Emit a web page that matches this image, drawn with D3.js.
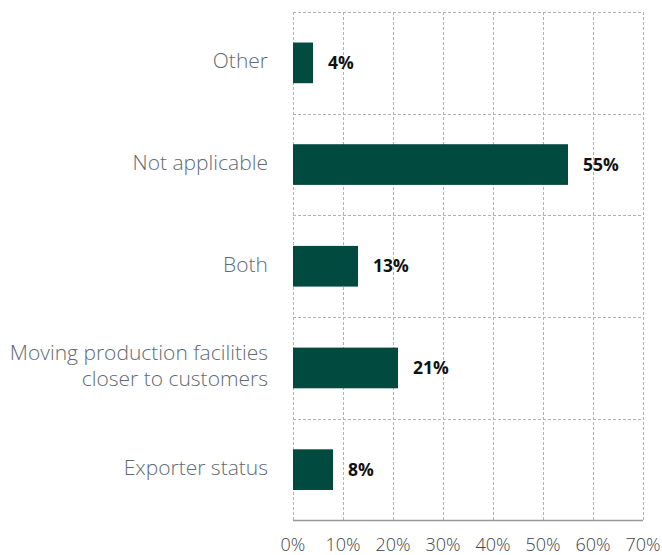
<!DOCTYPE html>
<html>
<head>
<meta charset="utf-8">
<script src="https://cdn.jsdelivr.net/npm/d3@7"></script>
<style>
  body { margin: 0; background: #fff; }
  svg { display: block; font-family: "Open Sans", sans-serif; }
</style>
</head>
<body>
<svg class="chart" width="662" height="555"></svg>
<script>
// categories top to bottom
var categories = ["Other", "Not applicable", "Both", "Moving production facilities\ncloser to customers", "Exporter status"];
var values = [4, 55, 13, 21, 8];
var ticks = [0, 10, 20, 30, 40, 50, 60, 70];

var width = 662,
    height = 555;
var margin = {top: 12, right: 19, bottom: 34.5, left: 293};

var svg = d3.select(".chart");

var x = d3.scaleLinear()
  .domain([0, 70])
  .range([margin.left, width - margin.right]);

var y = d3.scaleBand()
  .domain(categories)
  .range([margin.top, height - margin.bottom])
  .paddingInner(0.6)
  .paddingOuter(0.3);

// vertical dashed grid
svg.append("g").selectAll("line")
  .data(ticks)
  .enter().append("line")
    .attr("x1", function(d) { return Math.round(x(d)) + 0.5; })
    .attr("x2", function(d) { return Math.round(x(d)) + 0.5; })
    .attr("y1", margin.top)
    .attr("y2", height - margin.bottom)
    .attr("stroke", "#b3b3b3")
    .attr("stroke-dasharray", "3,2");

// horizontal dashed lines between bands
var bounds = d3.range(categories.length).map(function(i) { return margin.top + i * (height - margin.top - margin.bottom) / categories.length; });
svg.append("g").selectAll("line")
  .data(bounds)
  .enter().append("line")
    .attr("x1", x(0))
    .attr("x2", x(70))
    .attr("y1", function(d) { return Math.round(d) + 0.5; })
    .attr("y2", function(d) { return Math.round(d) + 0.5; })
    .attr("stroke", "#b3b3b3")
    .attr("stroke-dasharray", "3,2");

// bottom axis line
svg.append("line")
  .attr("x1", x(0))
  .attr("x2", x(70))
  .attr("y1", height - margin.bottom)
  .attr("y2", height - margin.bottom)
  .attr("stroke", "#999")
  .attr("stroke-width", 1.5);

// bars
svg.append("g").selectAll("rect")
  .data(values)
  .enter().append("rect")
    .attr("x", x(0))
    .attr("y", function(d, i) { return y(categories[i]); })
    .attr("width", function(d) { return x(d) - x(0); })
    .attr("height", y.bandwidth())
    .attr("fill", "#004a40");

// value labels
svg.append("g").selectAll("text")
  .data(values)
  .enter().append("text")
    .attr("x", function(d) { return x(d) + 15; })
    .attr("y", function(d, i) { return y(categories[i]) + y.bandwidth() / 2; })
    .attr("dy", "0.35em")
    .attr("font-size", 17.5)
    .attr("font-weight", 700)
    .attr("fill", "#111")
    .text(function(d) { return d + "%"; });

// category labels
var cat = svg.append("g").selectAll("text")
  .data(categories)
  .enter().append("text")
    .attr("x", 268)
    .attr("y", function(d) { return y(d) + y.bandwidth() / 2 - 2; })
    .attr("text-anchor", "end")
    .attr("font-size", 21)
    .attr("font-weight", 300)
    .attr("fill", "#5f6b73");

cat.each(function(d) {
  var lines = d.split("\n");
  var t = d3.select(this);
  lines.forEach(function(l, i) {
    t.append("tspan")
      .attr("x", 268)
      .attr("dy", i == 0 ? (0.35 - (lines.length - 1) * 0.62) + "em" : "1.24em")
      .text(l);
  });
});

// tick labels
svg.append("g").selectAll("text")
  .data(ticks)
  .enter().append("text")
    .attr("x", function(d) { return x(d); })
    .attr("y", 555 - 4)
    .attr("text-anchor", "middle")
    .attr("font-size", 18)
    .attr("font-weight", 300)
    .attr("fill", "#444")
    .text(function(d) { return d + "%"; });
</script>
</body>
</html>
